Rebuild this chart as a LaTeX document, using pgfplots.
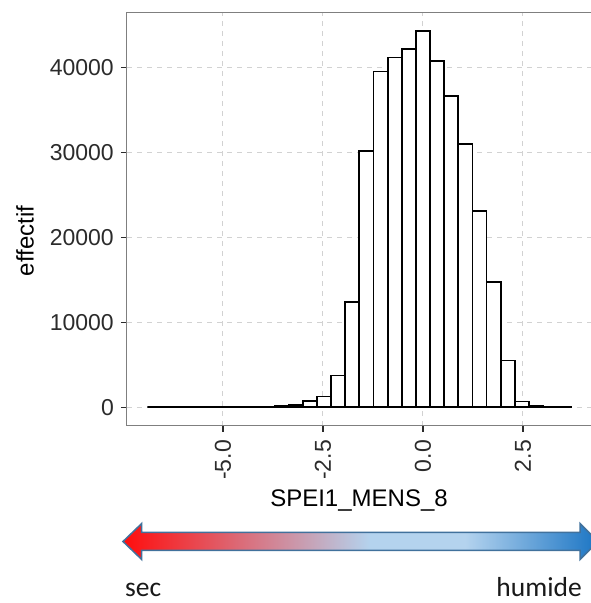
\documentclass[border=0pt]{standalone}
\usepackage{pgfplots}
\pgfplotsset{compat=1.18}
\usepackage{fontspec}
\setmainfont{Liberation Sans}
\newfontfamily\calibri{Carlito}
\definecolor{gridc}{HTML}{D2D2D2}
\definecolor{framec}{HTML}{7F7F7F}
\definecolor{tickc}{HTML}{2B2B2B}
\definecolor{redA}{HTML}{FF0D0D}
\definecolor{lightB}{HTML}{B4D3EE}
\definecolor{blueB}{HTML}{1B75C4}
\definecolor{outl}{HTML}{41719C}
\pgfdeclarehorizontalshading{secHum}{100bp}{color(0bp)=(redA); color(25bp)=(redA); color(51bp)=(lightB); color(61bp)=(lightB); color(75bp)=(blueB); color(100bp)=(blueB)}
\pgfplotstableread{
x y
-6.8920 0
-6.5386 0
-6.1853 0
-5.8319 1
-5.4786 2
-5.1252 4
-4.7718 8
-4.4185 15
-4.0651 35
-3.7118 100
-3.3584 260
-3.0050 706
-2.6517 1255
-2.2983 3725
-1.9450 12353
-1.5916 30157
-1.2382 39490
-0.8849 41137
-0.5315 42157
-0.1782 44235
0.1752 40706
0.5286 36627
0.8819 30941
1.2353 23098
1.5886 14745
1.9420 5490
2.2954 667
2.6487 200
3.0021 80
3.3554 30
3.7088 30
}\histdata
\begin{document}
\begin{tikzpicture}
\begin{axis}[
  at={(127pt,177pt)}, anchor=south west,
  scale only axis, width=465.6pt, height=413.6pt,
  xmin=-7.40, xmax=4.24, ymin=-2212, ymax=46447,
  axis line style={draw=framec, line width=1pt},
  xtick={-5,-2.5,0,2.5}, xticklabels={-5.0,-2.5,0.0,2.5},
  ytick={0,10000,20000,30000,40000}, yticklabels={0,10000,20000,30000,40000},
  tick align=outside, major tick length=6pt,
  tick style={draw=tickc, line width=1.2pt},
  xtick pos=bottom, ytick pos=left,
  grid=major,
  major grid style={draw=gridc, line width=1pt, dash pattern=on 5pt off 5pt},
  ticklabel style={font=\fontsize{23}{27}\selectfont, text=tickc},
  xticklabel style={rotate=90, anchor=east, inner sep=0pt, xshift=-8pt},
  yticklabel style={anchor=east, inner sep=0pt, xshift=-7pt},
]
\addplot[ybar interval, fill=white, draw=black, line width=1.8pt] table[x=x, y=y] {\histdata};
\end{axis}
\node[rotate=90, font=\fontsize{24}{28}\selectfont] at (25pt,362pt) {effectif};
\node[anchor=base, font=\fontsize{24}{28}\selectfont] at (359pt,96.5pt) {SPEI1\_MENS\_8};
\path[shade, shading=secHum, draw=outl, line width=1.5pt]
  (123pt,61.5pt) -- (141.7pt,79.5pt) -- (141.7pt,70.5pt) -- (580pt,70.5pt) -- (580pt,79.5pt)
  -- (598pt,61.5pt) -- (580pt,43.5pt) -- (580pt,52.5pt) -- (141.7pt,52.5pt) -- (141.7pt,43.5pt) -- cycle;
\node[anchor=base west, inner sep=0pt, font=\calibri\fontsize{27.5}{32}\selectfont, text=black!90] at (125pt,6pt) {sec};
\node[anchor=base east, inner sep=0pt, font=\calibri\fontsize{27.5}{32}\selectfont, text=black!90] at (582pt,6pt) {humide};
\pgfresetboundingbox
\useasboundingbox (0,0) rectangle (590pt,603pt);
\end{tikzpicture}
\end{document}
